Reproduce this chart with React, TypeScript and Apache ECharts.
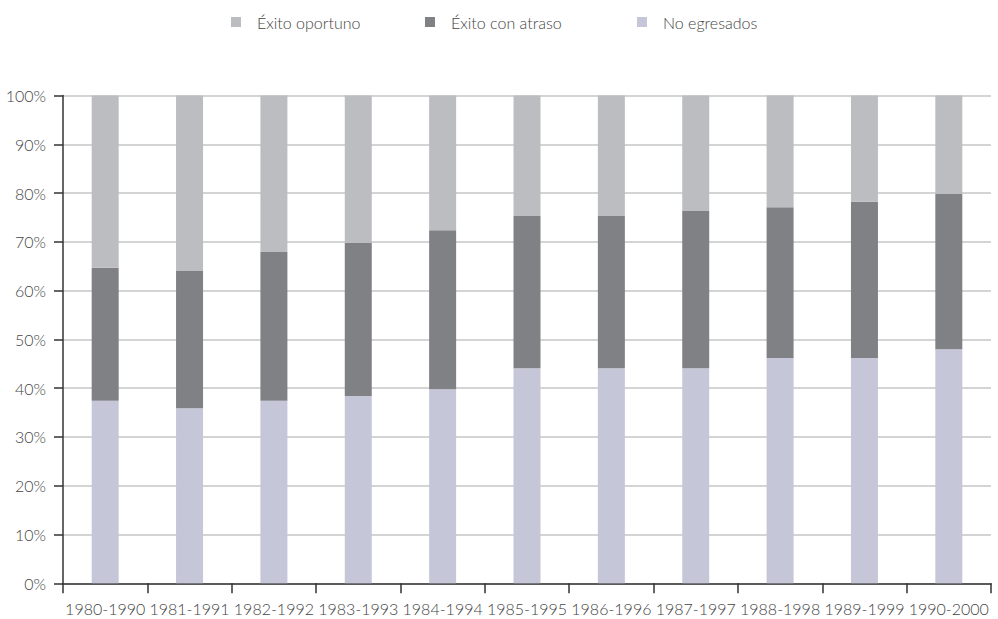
import React, { useEffect, useRef } from "react";
import * as echarts from "echarts";

// Cohort periods shown along the horizontal axis
const cohorts = [
  "1980-1990", "1981-1991", "1982-1992", "1983-1993", "1984-1994", "1985-1995",
  "1986-1996", "1987-1997", "1988-1998", "1989-1999", "1990-2000",
];

// Percentage of each cohort by outcome (stacked bottom to top)
const noEgresados = [37.4, 35.9, 37.4, 38.4, 39.8, 44.1, 44.1, 44.1, 46.2, 46.2, 48.0];
const exitoConAtraso = [27.3, 28.1, 30.5, 31.4, 32.6, 31.2, 31.2, 32.2, 30.9, 32.0, 31.8];
const exitoOportuno = [35.3, 36.0, 32.1, 30.2, 27.6, 24.7, 24.7, 23.7, 22.9, 21.8, 20.2];

const seriesNames = ["Éxito oportuno", "Éxito con atraso", "No egresados"];
const seriesColors = ["#bcbdc1", "#808185", "#c6c6d9"];
const legendLefts = [226, 420, 632];

const FONT = "Lato";
const TEXT_COLOR = "#444";

export default function App() {
  const ref = useRef<HTMLDivElement>(null);

  useEffect(() => {
    if (!ref.current) return;
    const chart = echarts.init(ref.current, null, { renderer: "svg" });

    const values = [exitoOportuno, exitoConAtraso, noEgresados];
    // draw bottom segment first so the stack order is No egresados → con atraso → oportuno
    const order = [2, 1, 0];

    chart.setOption({
      animation: false,
      backgroundColor: "#ffffff",
      textStyle: { fontFamily: FONT, color: TEXT_COLOR },
      legend: seriesNames.map((name, i) => ({
        data: [name],
        left: legendLefts[i],
        top: 9,
        icon: "rect",
        itemWidth: 10,
        itemHeight: 10,
        selectedMode: false,
        textStyle: {
          fontFamily: FONT,
          fontWeight: 300,
          fontSize: 16,
          color: TEXT_COLOR,
          padding: [0, 0, 0, 11],
        },
      })),
      grid: { left: 63, right: 7, top: 95.5, bottom: 35.7, containLabel: false },
      xAxis: {
        type: "category",
        data: cohorts,
        axisLine: { show: true, lineStyle: { color: "#333", width: 1.5 } },
        axisTick: { show: true, length: 10, interval: 0, lineStyle: { color: "#333", width: 1.5 } },
        axisLabel: {
          interval: 0,
          margin: 17,
          fontFamily: FONT,
          fontWeight: 300,
          fontSize: 16,
          color: TEXT_COLOR,
        },
        splitLine: { show: false },
      },
      yAxis: {
        type: "value",
        min: 0,
        max: 100,
        interval: 10,
        axisLine: { show: true, lineStyle: { color: "#333", width: 1.5 } },
        axisTick: { show: true, length: 9, lineStyle: { color: "#333", width: 1.5 } },
        axisLabel: {
          formatter: "{value}%",
          margin: 17,
          fontFamily: FONT,
          fontWeight: 300,
          fontSize: 16,
          color: TEXT_COLOR,
        },
        splitLine: { show: true, lineStyle: { color: "#c6c6c6", width: 1.5 } },
      },
      series: order.map((i) => ({
        name: seriesNames[i],
        type: "bar",
        stack: "total",
        barWidth: 27,
        data: values[i],
        itemStyle: { color: seriesColors[i] },
      })),
    });

    return () => chart.dispose();
  }, []);

  return (
    <div
      ref={ref}
      style={{ position: "fixed", left: 0, top: 0, width: 998, height: 619 }}
    />
  );
}
